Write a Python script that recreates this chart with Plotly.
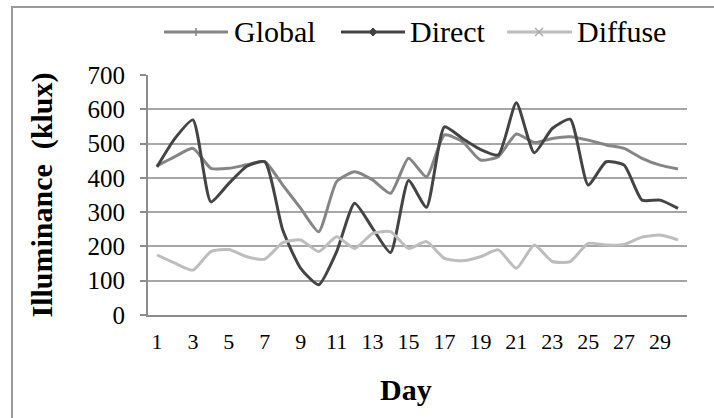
import plotly.graph_objects as go

# Daily illuminance readings (klux) for a 30-day month
days = list(range(1, 31))
global_lux = [435, 462, 486, 428, 428, 438, 447, 379, 311, 243,
              389, 418, 394, 355, 457, 403, 525, 506, 452, 462,
              528, 503, 515, 520, 510, 496, 486, 457, 437, 426]
direct_lux = [432, 515, 569, 330, 384, 434, 447, 248, 136, 88,
              185, 326, 253, 182, 392, 314, 549, 515, 483, 467,
              619, 473, 544, 571, 379, 447, 437, 335, 335, 311]
diffuse_lux = [175, 151, 131, 185, 191, 170, 163, 211, 219, 185,
               228, 194, 238, 243, 194, 214, 165, 158, 170, 190,
               136, 204, 156, 156, 209, 204, 206, 227, 233, 219]

x_ticks = list(range(1, 31, 2))
y_ticks = list(range(0, 701, 100))

series_names = ["Global", "Direct", "Diffuse"]
series_values = [global_lux, direct_lux, diffuse_lux]
series_colors = ["#858585", "#444444", "#bdbdbd"]

FONT = "Liberation Serif"
W, H = 714, 418
ML, MR, MT, MB = 148, 27, 75, 103
PW, PH = W - ML - MR, H - MT - MB


def px(x):
    """pixel column -> paper x"""
    return (x - ML) / PW


def py(y):
    """pixel row -> paper y"""
    return (H - MB - y) / PH


fig = go.Figure()
for name, vals, color in zip(series_names, series_values, series_colors):
    fig.add_trace(go.Scatter(
        x=days, y=vals, name=name, mode="lines", showlegend=False,
        line=dict(color=color, width=3, shape="spline", smoothing=0.55),
    ))

fig.update_layout(
    width=W, height=H,
    margin=dict(l=ML, r=MR, t=MT, b=MB),
    paper_bgcolor="white", plot_bgcolor="white",
    font=dict(family=FONT, color="black"),
    showlegend=False,
    xaxis=dict(
        range=[0.5, 30.5], tickmode="array", tickvals=x_ticks,
        ticktext=[str(v) for v in x_ticks],
        tickfont=dict(family=FONT, size=22, color="black"),
        showgrid=False, zeroline=False,
        showline=True, linecolor="#8c8c8c", linewidth=2,
        ticks="", ticklabelstandoff=6,
    ),
    yaxis=dict(
        range=[0, 700], tickmode="array", tickvals=y_ticks,
        tickfont=dict(family=FONT, size=25, color="black"),
        showgrid=True, gridcolor="#a6a6a6", gridwidth=2,
        zeroline=False,
        showline=True, linecolor="#8c8c8c", linewidth=2,
        ticks="outside", ticklen=6, tickcolor="#8c8c8c", tickwidth=2,
        ticklabelstandoff=10,
        title=dict(text="<b>Illuminance  (klux)</b>",
                   font=dict(family=FONT, size=30), standoff=26),
    ),
)

# x-axis title
fig.add_annotation(text="<b>Day</b>", xref="paper", yref="paper",
                   x=px(406), y=py(389), xanchor="center", yanchor="middle",
                   showarrow=False, font=dict(family=FONT, size=30))

# Legend row: long line sample, small marker, label
legend_y = 32
legend_items = [
    # (line start, line end, marker centre, text start)
    (164, 228, 196, 232),
    (341, 405, 373, 408),
    (507, 572, 539, 575),
]
for (x0, x1, xm, xt), name, color in zip(legend_items, series_names,
                                          series_colors):
    fig.add_shape(type="line", xref="paper", yref="paper",
                  x0=px(x0), x1=px(x1), y0=py(legend_y), y1=py(legend_y),
                  line=dict(color=color, width=3))
    fig.add_annotation(text=name, xref="paper", yref="paper",
                       x=px(xt), y=py(legend_y - 1), xanchor="left",
                       yanchor="middle", showarrow=False,
                       font=dict(family=FONT, size=30, color="black"))

# legend markers: tick for Global, diamond for Direct, cross for Diffuse
(_, _, gm, _), (_, _, dm, _), (_, _, fm, _) = legend_items
fig.add_shape(type="line", xref="paper", yref="paper",
              x0=px(gm), x1=px(gm), y0=py(legend_y - 4), y1=py(legend_y + 4),
              line=dict(color=series_colors[0], width=1.5))
fig.add_shape(type="path", xref="paper", yref="paper",
              path=(f"M {px(dm - 4)} {py(legend_y)} L {px(dm)} {py(legend_y - 4)} "
                    f"L {px(dm + 4)} {py(legend_y)} L {px(dm)} {py(legend_y + 4)} Z"),
              fillcolor=series_colors[1], line=dict(color=series_colors[1], width=1))
for s in (-1, 1):
    fig.add_shape(type="line", xref="paper", yref="paper",
                  x0=px(fm - 4), x1=px(fm + 4),
                  y0=py(legend_y - 4 * s), y1=py(legend_y + 4 * s),
                  line=dict(color="#a8a8a8", width=1.2))

# Chart-area frame
fig.add_shape(type="rect", xref="paper", yref="paper",
              x0=px(12), x1=px(730), y0=py(440), y1=py(7),
              line=dict(color="#9a9a9a", width=2), fillcolor="rgba(0,0,0,0)",
              layer="below")

fig.write_html("out.html")
